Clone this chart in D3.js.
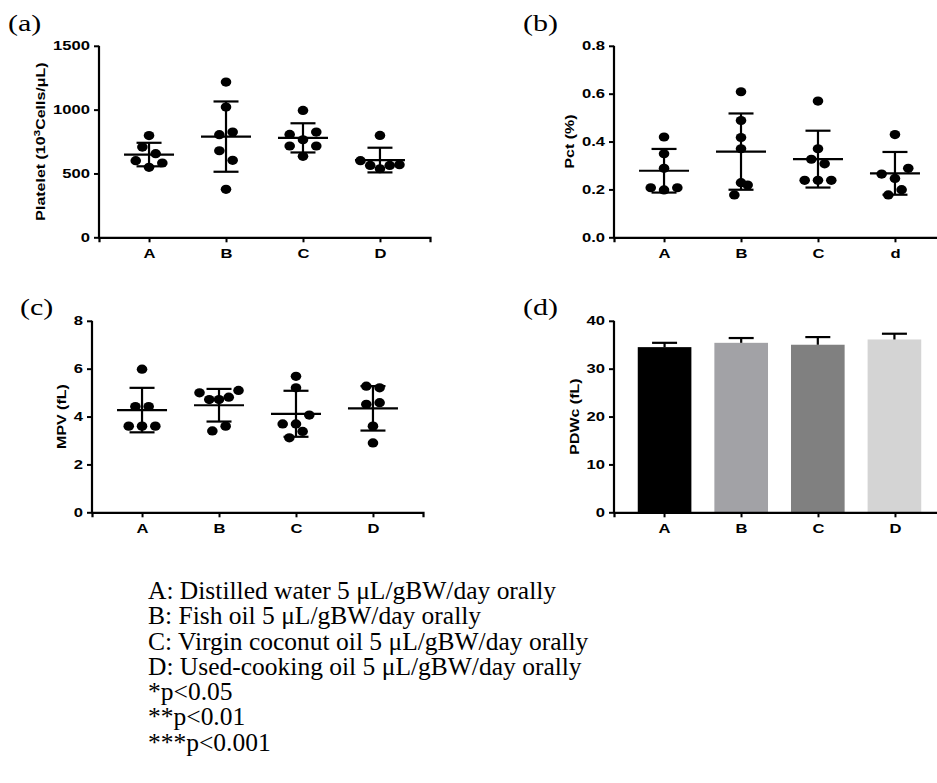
<!DOCTYPE html>
<html><head><meta charset="utf-8">
<script src="https://cdn.jsdelivr.net/npm/d3@7"></script>
<style>body{margin:0;background:#fff}</style>
</head><body><svg id="chart" width="937" height="783"></svg>
<script>
// ---------------- DATA ----------------
const categories  = ["A", "B", "C", "D"];
const categoriesPct = ["A", "B", "C", "d"];

// (a) Platelet (10^3 cells/uL), one array per group
const plateletA = [548, 600, 582, 707, 655, 797];
const plateletB = [376, 678, 603, 804, 824, 1020, 1216];
const plateletC = [634, 715, 715, 764, 806, 824, 994];
const plateletD = [537, 563, 563, 569, 600, 798];
const plateletTicks = [0, 500, 1000, 1500];

// (b) Pct (%)
const pctA = [0.198, 0.207, 0.207, 0.288, 0.349, 0.419];
const pctB = [0.177, 0.218, 0.228, 0.370, 0.417, 0.488, 0.608];
const pctC = [0.238, 0.238, 0.238, 0.326, 0.307, 0.370, 0.569];
const pctD = [0.177, 0.199, 0.246, 0.264, 0.288, 0.429];
const pctTicks = [0, 0.2, 0.4, 0.6, 0.8];

// (c) MPV (fL)
const mpvA = [3.60, 3.60, 3.60, 4.42, 4.42, 5.98];
const mpvB = [3.40, 3.60, 4.71, 4.71, 4.81, 5.09, 4.99];
const mpvC = [3.11, 3.38, 3.69, 3.69, 4.06, 5.20, 5.68];
const mpvD = [2.90, 3.60, 4.51, 4.58, 5.27, 5.20];
const mpvTicks = [0, 2, 4, 6, 8];

// (d) PDWc (fL): mean and SD
const pdwcMean = [34.5, 35.4, 35.0, 36.1];
const pdwcSD   = [0.9, 1.0, 1.6, 1.2];
const pdwcColors = ["#000000", "#a2a2a6", "#808080", "#d4d4d4"];
const pdwcTicks = [0, 10, 20, 30, 40];

const legendLines = [
  "A: Distilled water 5 \u03bcL/gBW/day orally",
  "B: Fish oil 5 \u03bcL/gBW/day orally",
  "C: Virgin coconut oil 5 \u03bcL/gBW/day orally",
  "D: Used-cooking oil 5 \u03bcL/gBW/day orally",
  "*p<0.05",
  "**p<0.01",
  "***p<0.001"
];

// ---------------- DRAWING ----------------
const svg = d3.select("#chart");
const SX = 1.33;           // horizontal glyph stretch of the chart font
const FONT = "'Liberation Sans', Arial, sans-serif";
const SERIF = "'Liberation Serif', 'Times New Roman', serif";

function stretchTicks(g) {
  g.selectAll(".tick text").each(function () {
    const t = d3.select(this);
    const x = +t.attr("x") || 0;
    t.attr("transform", `translate(${x},0) scale(${SX},1) translate(${-x},0)`);
  });
}

function makePanel(cfg) {
  const g = svg.append("g");
  const x = d3.scalePoint().domain(cfg.cats).range([cfg.x0, cfg.x0 + 331]).padding(0.65);
  const xb = d3.scaleBand().domain(cfg.cats).range([cfg.x0, cfg.x0 + 331]).paddingInner(0.3).paddingOuter(0.31);
  const y = d3.scaleLinear().domain([0, cfg.max]).range([cfg.y0, cfg.y0 - 191.5]);

  const ya = g.append("g").attr("transform", `translate(${cfg.x0},0)`)
    .call(d3.axisLeft(y).tickValues(cfg.ticks).tickSizeOuter(0).tickSize(5).tickPadding(4)
      .tickFormat(cfg.fmt));
  const xa = g.append("g").attr("transform", `translate(0,${cfg.y0})`)
    .call(d3.axisBottom(x).tickSizeOuter(0).tickSize(5).tickPadding(7));
  [ya, xa].forEach(a => {
    a.selectAll("path.domain").attr("stroke", "#000").attr("stroke-width", 2.2);
    a.selectAll(".tick line").attr("stroke", "#000").attr("stroke-width", 2);
    a.selectAll(".tick text").attr("fill", "#000").attr("font-family", FONT)
      .attr("font-weight", "bold").attr("font-size", 12.5);
  });
  ya.select("path.domain").attr("d", `M0,${cfg.y0 + 1}V${cfg.y0 - 191.5}`);
  stretchTicks(ya); stretchTicks(xa);

  const bb = ya.node().getBBox();
  const tx = cfg.x0 + bb.x - 8;
  const title = g.append("text")
    .attr("transform", `translate(${tx},${cfg.y0 - 95.75}) rotate(-90) scale(${SX},1)`)
    .attr("text-anchor", "middle").attr("font-family", FONT).attr("font-weight", "bold")
    .attr("font-size", 12).attr("fill", "#000");
  title.append("tspan").text(cfg.title[0]);
  if (cfg.title.length > 1) {
    title.append("tspan").attr("font-size", 9).attr("dy", -5).text(cfg.title[1]);
    title.append("tspan").attr("dy", 5).text(cfg.title[2]);
  }

  g.append("text").attr("x", cfg.lx).attr("y", cfg.ly)
    .attr("font-family", SERIF).attr("font-size", 24)
    .attr("transform", `translate(${cfg.lx},0) scale(1.25,1) translate(${-cfg.lx},0)`)
    .text(cfg.label);

  if (cfg.groups) {
    const ROW_H = 10.9;
    cfg.groups.forEach((vals, gi) => {
      const cx = x(cfg.cats[gi]);
      const idx = vals.map((v, i) => i).sort((a, b) => vals[a] - vals[b]);
      const off = new Array(vals.length).fill(0);
      let k = 0;
      while (k < idx.length) {
        const startY = y(vals[idx[k]]);
        const row = [idx[k]]; k++;
        while (k < idx.length && startY - y(vals[idx[k]]) < ROW_H) { row.push(idx[k]); k++; }
        row.sort((a, b) => a - b);
        const n = row.length;
        const step = n <= 3 ? 13.3 : 39 / (n - 1);
        const slots = n % 2 ? [0, -1, 1, 2, -2, 3, -3] : [-0.5, 0.5, -1.5, 1.5, -2.5, 2.5];
        row.forEach((id, j) => off[id] = slots[j] * step);
      }
      g.append("g").selectAll("ellipse").data(vals).join("ellipse")
        .attr("cx", (d, i) => cx + off[i]).attr("cy", d => y(d))
        .attr("rx", 5.3).attr("ry", 4.6).attr("fill", "#000");
      const m = d3.mean(vals), s = d3.deviation(vals);
      const lg = g.append("g").attr("stroke", "#000").attr("stroke-width", 2.2);
      lg.append("line").attr("x1", cx - 25).attr("x2", cx + 25).attr("y1", y(m)).attr("y2", y(m));
      lg.append("line").attr("x1", cx).attr("x2", cx).attr("y1", y(m - s)).attr("y2", y(m + s));
      [m - s, m + s].forEach(v => lg.append("line").attr("x1", cx - 12.5).attr("x2", cx + 12.5)
        .attr("y1", y(v)).attr("y2", y(v)));
    });
  } else {
    g.append("g").selectAll("rect").data(cfg.means).join("rect")
      .attr("x", (d, i) => xb(cfg.cats[i])).attr("width", xb.bandwidth())
      .attr("y", d => y(d)).attr("height", d => cfg.y0 - y(d))
      .attr("fill", (d, i) => cfg.colors[i]);
    const eg = g.append("g").attr("stroke", "#000").attr("stroke-width", 2.2);
    cfg.means.forEach((m, i) => {
      const cx = xb(cfg.cats[i]) + xb.bandwidth() / 2;
      eg.append("line").attr("x1", cx).attr("x2", cx).attr("y1", y(m)).attr("y2", y(m + cfg.sds[i]));
      eg.append("line").attr("x1", cx - 12.5).attr("x2", cx + 12.5)
        .attr("y1", y(m + cfg.sds[i])).attr("y2", y(m + cfg.sds[i]));
    });
    g.node().appendChild(xa.node());
  }
}

makePanel({ x0: 99, y0: 237.3, max: 1500, ticks: plateletTicks, fmt: d3.format("d"),
  cats: categories, groups: [plateletA, plateletB, plateletC, plateletD],
  title: ["Platelet (10", "3", "Cells/\u03bcL)"], label: "(a)", lx: 8, ly: 31 });
makePanel({ x0: 614, y0: 237.3, max: 0.8, ticks: pctTicks, fmt: d3.format(".1f"),
  cats: categoriesPct, groups: [pctA, pctB, pctC, pctD],
  title: ["Pct (%)"], label: "(b)", lx: 523, ly: 31 });
makePanel({ x0: 92, y0: 512.3, max: 8, ticks: mpvTicks, fmt: d3.format("d"),
  cats: categories, groups: [mpvA, mpvB, mpvC, mpvD],
  title: ["MPV (fL)"], label: "(c)", lx: 20, ly: 315 });
makePanel({ x0: 614, y0: 512.3, max: 40, ticks: pdwcTicks, fmt: d3.format("d"),
  cats: categories, means: pdwcMean, sds: pdwcSD, colors: pdwcColors,
  title: ["PDWc (fL)"], label: "(d)", lx: 523, ly: 315 });

// legend text
svg.append("g").selectAll("text").data(legendLines).join("text")
  .attr("x", 148).attr("y", (d, i) => 599 + i * 25.3)
  .attr("font-family", SERIF).attr("font-size", 25).attr("fill", "#000")
  .attr("transform", "translate(148,0) scale(1.02,1) translate(-148,0)")
  .text(d => d);
</script>
</body></html>
